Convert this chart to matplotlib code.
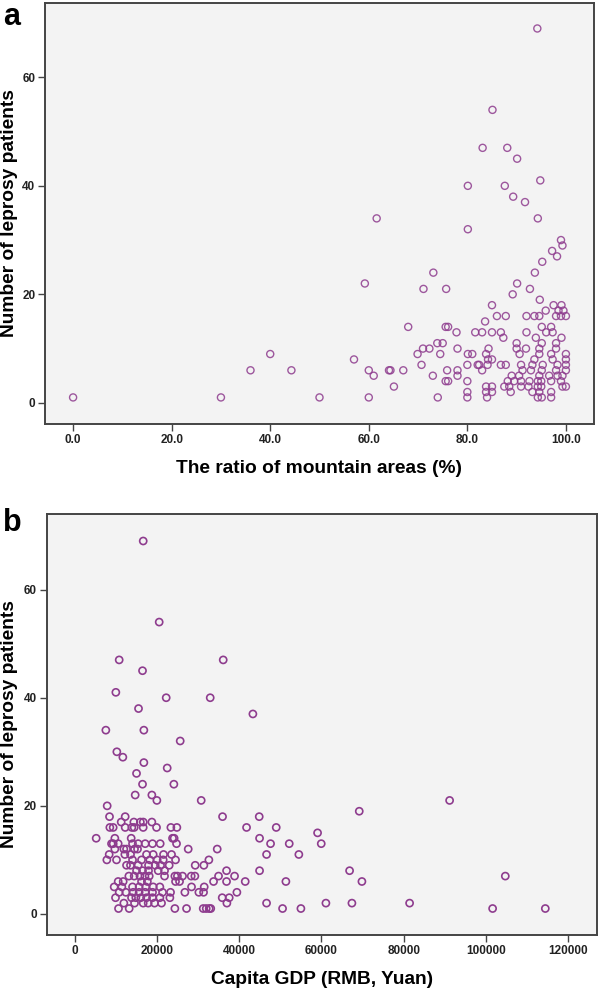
import matplotlib.pyplot as plt
import numpy as np

plt.rcParams['font.family'] = ['Liberation Sans', 'DejaVu Sans']

# panel a: ratio of mountain areas (%) vs number of leprosy patients
mount_x = [0, 30, 36, 40, 44.3, 50, 57, 59.2, 60, 60, 61, 61.6, 64.1, 64.4, 65.1, 67, 68,
           70.7, 69.9, 71, 71.1, 72.3, 73, 73.1, 73.9, 74, 74.5, 75, 75.6, 76.1, 75.6, 76.1,
           75.9, 75.7, 77.8, 78, 78, 78, 80, 80, 80, 80, 80.1, 80.1, 80.1, 81, 81.6, 82.1,
           82.4, 83, 83, 83.1, 83.6, 83.8, 83.8, 83.8, 84, 84.1, 84.2, 84.3, 85, 85, 85, 85,
           85, 85.1, 86, 86.8, 86.8, 87.3, 87.5, 87.6, 87.8, 87.8, 88.1, 88.2, 88.5, 88.8, 89,
           89.2, 89.3, 89.5, 90, 90, 90.1, 90.1, 90.5, 90.6, 90.9, 90.9, 90.9, 91.2, 91.7,
           91.9, 92, 92, 92.4, 92.6, 92.7, 92.9, 93.2, 93.2, 93.6, 93.6, 93.7, 93.9, 94.2,
           94.3, 94.3, 94.3, 94.3, 94.6, 94.6, 94.6, 94.6, 94.6, 94.7, 94.8, 95, 95, 95.1,
           95.1, 95.1, 95.1, 95.2, 95.3, 95.9, 96, 96.6, 97, 97, 97, 97, 97, 97.2, 97.3, 97.3,
           97.5, 98, 98, 98, 98, 98.2, 98.3, 98.3, 98.5, 99, 99, 99, 99.1, 99.1, 99.3, 99.3,
           99.3, 99.5, 100, 100, 100, 100, 100, 100]
mount_y = [1, 1, 6, 9, 6, 1, 8, 22, 6, 1, 5, 34, 6, 6, 3, 6, 14,
           7, 9, 10, 21, 10, 5, 24, 11, 1, 9, 11, 4, 4, 14, 14,
           6, 21, 13, 10, 6, 5, 4, 2, 1, 7, 40, 32, 9, 9, 13, 7,
           7, 13, 6, 47, 15, 9, 3, 2, 1, 7, 8, 10, 18, 13, 8, 3,
           2, 54, 16, 13, 7, 12, 3, 40, 16, 7, 47, 4, 3, 2, 5,
           20, 38, 4, 11, 10, 45, 22, 5, 9, 7, 4, 3, 6, 37,
           10, 16, 13, 3, 4, 21, 6, 7, 2, 16, 8, 24, 12, 69,
           34, 4, 3, 1, 16, 10, 9, 5, 2, 19, 41, 4, 3, 14,
           11, 6, 1, 26, 7, 17, 13, 5, 14, 9, 4, 2, 1, 28, 13, 8,
           18, 16, 11, 10, 6, 27, 7, 5, 17, 16, 30, 4, 18, 12, 29, 5,
           3, 17, 16, 9, 8, 7, 6, 3]

# panel b: capita GDP (RMB, Yuan) vs number of leprosy patients
gdp_x = [16690, 20574, 10854, 36126, 16524, 10044, 22275, 32967, 15552, 43335, 7614, 16848,
         25677, 10287, 11745, 16848, 22518, 15066, 16524, 24138, 14742, 18792, 20007, 30780,
         7938, 35964, 44874, 8505, 12312,
         11340, 14418, 16000, 16700, 18792,
         8586, 9396, 12312, 13932, 14500, 16686, 19926, 23409, 24867, 41796, 49005,
         5265, 9801, 13770, 23814, 24200, 44955,
         8991, 9400, 10611, 14094, 15471, 17172, 18954, 20817, 24786, 47628, 52164,
         9801, 11988, 12636, 14580, 15309, 27621, 34668,
         8424, 12231, 13608, 17496, 19116, 21627, 23571, 46656, 54500,
         7857, 10206, 14094, 16281, 18306, 20088, 21546, 24543, 32643,
         12636, 13600, 15471, 17982, 19602, 20900, 23004, 29322, 31428,
         15066, 16524, 17982, 20331, 21870, 36936, 44955,
         13203, 14499, 15900, 17100, 18150, 21870, 24381, 25000, 26244, 28350, 29241, 34992,
         38880,
         10611, 11826, 16281, 17700, 24543, 25515, 33777, 36936, 41472, 51354,
         9639, 11502, 14094, 15700, 17300, 19116, 20736, 28431, 31509,
         10854, 12474, 14256, 15700, 17172, 18954, 21384, 23328, 26811, 30213, 31347, 39447,
         9963, 13851, 14900, 16100, 17500, 18954, 20736, 23166, 35883, 37584,
         11988, 14580, 16686, 17900, 19440, 21141, 37017, 46656,
         10692, 13284, 24381, 27216, 31266, 32000, 32724, 33100, 50544, 55000,
         91125, 69174, 59049, 59940, 66825, 69822, 104652, 61074, 67392, 81405, 101574,
         114372]
gdp_y = [69, 54, 47, 47, 45, 41, 40, 40, 38, 37, 34, 34,
         32, 30, 29, 28, 27, 26, 24, 24, 22, 22, 21, 21,
         20, 18, 18, 18, 18,
         17, 17, 17, 17, 17,
         16, 16, 16, 16, 16, 16, 16, 16, 16, 16, 16,
         14, 14, 14, 14, 14, 14,
         13, 13, 13, 13, 13, 13, 13, 13, 13, 13, 13,
         12, 12, 12, 12, 12, 12, 12,
         11, 11, 11, 11, 11, 11, 11, 11, 11,
         10, 10, 10, 10, 10, 10, 10, 10, 10,
         9, 9, 9, 9, 9, 9, 9, 9, 9,
         8, 8, 8, 8, 8, 8, 8,
         7, 7, 7, 7, 7, 7, 7, 7, 7, 7, 7, 7,
         7,
         6, 6, 6, 6, 6, 6, 6, 6, 6, 6,
         5, 5, 5, 5, 5, 5, 5, 5, 5,
         4, 4, 4, 4, 4, 4, 4, 4, 4, 4, 4, 4,
         3, 3, 3, 3, 3, 3, 3, 3, 3, 3,
         2, 2, 2, 2, 2, 2, 2, 2,
         1, 1, 1, 1, 1, 1, 1, 1, 1, 1,
         21, 19, 15, 13, 8, 6, 7, 2, 2, 2, 1,
         1]

y_ticks = [0, 20, 40, 60]
mount_ticks = [0, 20, 40, 60, 80, 100]
mount_labels = ['0.0', '20.0', '40.0', '60.0', '80.0', '100.0']
gdp_ticks = [0, 20000, 40000, 60000, 80000, 100000, 120000]

purple = '#8E3C8E'
lab_size = 13.8

fig = plt.figure(figsize=(6, 9.93), dpi=100)
ax1 = fig.add_axes([0.075, 0.573, 0.915, 0.424])
ax2 = fig.add_axes([0.078, 0.0584, 0.917, 0.424])


def style(ax):
    ax.set_facecolor('#F3F3F3')
    for s in ax.spines.values():
        s.set_color('#444444')
        s.set_linewidth(1.4)
    ax.tick_params(direction='out', length=5, width=1, color='#444444',
                   labelsize=8.5, pad=2)
    for lab in ax.get_xticklabels() + ax.get_yticklabels():
        lab.set_fontweight('bold')
        lab.set_color('#222222')
    ax.set_yticks(y_ticks)


ax1.scatter(mount_x, mount_y, s=26, facecolors='none', edgecolors=purple,
            linewidths=1.0, alpha=0.85)
ax1.set_xlim(-5.7, 105.7)
ax1.set_ylim(-3.9, 73.7)
ax1.set_xticks(mount_ticks)
ax1.set_xticklabels(mount_labels)
style(ax1)
ax1.set_xlabel('The ratio of mountain areas (%)', fontsize=lab_size, fontweight='bold',
               labelpad=10)
ax1.set_ylabel('Number of leprosy patients', fontsize=lab_size, fontweight='bold')
ax1.yaxis.set_label_coords(-0.049, 0.5)

ax2.scatter(gdp_x, gdp_y, s=26, facecolors='none', edgecolors=purple,
            linewidths=1.2)
ax2.set_xlim(-6730, 126930)
ax2.set_ylim(-3.9, 74.0)
ax2.set_xticks(gdp_ticks)
style(ax2)
ax2.set_xlabel('Capita GDP (RMB, Yuan)', fontsize=lab_size, fontweight='bold',
               labelpad=10)
ax2.set_ylabel('Number of leprosy patients', fontsize=lab_size, fontweight='bold')
ax2.yaxis.set_label_coords(-0.053, 0.5)

fig.text(0.005, 0.998, 'a', fontsize=22, fontweight='bold', va='top', ha='left')
fig.text(0.005, 0.488, 'b', fontsize=22, fontweight='bold', va='top', ha='left')

fig.savefig('out.png', dpi=100)
plt.close()
